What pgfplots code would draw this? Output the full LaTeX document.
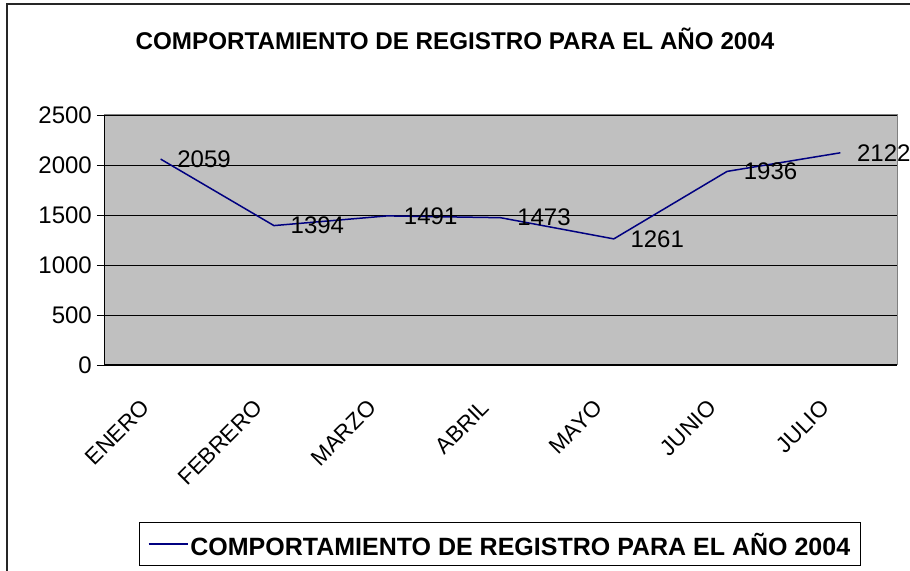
\documentclass[border=0pt]{standalone}
\usepackage{pgfplots}
\pgfplotsset{compat=1.18}
\usepackage{fontspec}
\setmainfont{Liberation Sans}
\definecolor{plotbg}{HTML}{C0C0C0}
\definecolor{navyline}{HTML}{000080}
\definecolor{framegray}{HTML}{808080}
\begin{document}
\begin{tikzpicture}[x=1bp,y=1bp]
\useasboundingbox (0,0) rectangle (910,571);
\draw[line width=1.5bp, black!85] (7,-5) -- (7,567) -- (915,567);
\node[font=\fontsize{24.2bp}{29bp}\selectfont\bfseries, inner sep=0pt, anchor=base] at (455,521) {COMPORTAMIENTO DE REGISTRO PARA EL AÑO 2004};
\begin{axis}[
  at={(104bp,206bp)}, anchor=south west,
  scale only axis, width=793bp, height=250bp,
  xmin=-0.5, xmax=6.5, ymin=0, ymax=2500,
  ytick={0,500,...,2500},
  ymajorgrids, grid style={black, line width=0.8bp},
  xtick={0,...,6},
  xticklabels={ENERO,FEBRERO,MARZO,ABRIL,MAYO,JUNIO,JULIO},
  xtick style={draw=none},
  minor xtick={-0.5,0.5,...,6.5},
  minor tick length=7bp, major tick length=7bp,
  tick align=outside, tick pos=left,
  tick style={black, line width=0.8bp},
  axis line style={framegray, line width=1bp},
  axis background/.style={fill=plotbg},
  /pgf/number format/.cd, 1000 sep={}, assume math mode=true, /pgfplots/.cd,
  yticklabel style={inner sep=0pt, xshift=-5bp, font=\fontsize{24bp}{28bp}\selectfont},
  xticklabel style={inner sep=0pt, xshift=-15bp, yshift=-32bp, rotate=45, anchor=east, font=\fontsize{22.5bp}{27bp}\selectfont},
  clip=false,
  nodes near coords,
  every node near coord/.append style={anchor=west, inner sep=0pt, xshift=16bp, font=\fontsize{24bp}{28bp}\selectfont, black},
  legend style={at={(0.4994,-0.716)}, anchor=center, draw=black, line width=0.8bp,
    font=\fontsize{25bp}{30bp}\selectfont\bfseries, inner xsep=8bp, inner ysep=8bp,
    nodes={inner sep=2bp, text depth=0pt}},
  legend image code/.code={\draw[#1] (0bp,0bp) -- (39bp,0bp);},
]
\addplot[navyline, line width=1.5bp, mark=none] coordinates {
  (0,2059) (1,1394) (2,1491) (3,1473) (4,1261) (5,1936) (6,2122)
};
\addlegendentry{COMPORTAMIENTO DE REGISTRO PARA EL AÑO 2004}
\draw[black, line width=1bp] (rel axis cs:0,1) -- (rel axis cs:0,0) -- (rel axis cs:1,0);
\end{axis}
\end{tikzpicture}
\end{document}
